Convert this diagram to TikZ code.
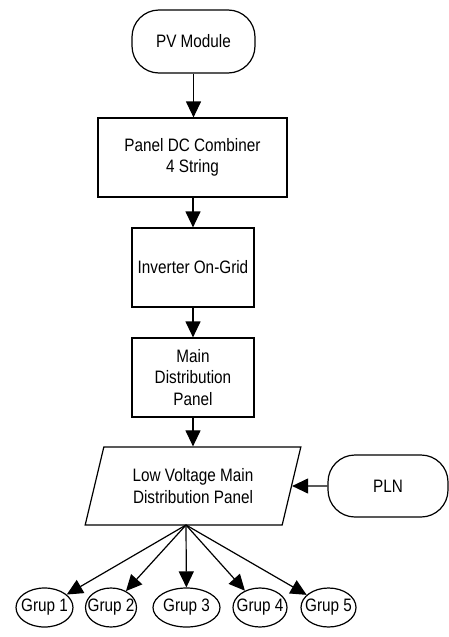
\documentclass[tikz,border=0pt]{standalone}
\usepackage{fontspec}
\setmainfont{Liberation Sans}[FakeStretch=0.85]
\usetikzlibrary{shapes.geometric,arrows.meta}
\begin{document}
\begin{tikzpicture}[x=1pt,y=1pt,
  every node/.style={font=\fontsize{18}{21.5}\selectfont, align=center, line width=1.2pt, inner sep=0pt},
  boxnode/.style={draw, rectangle, minimum height=79pt},
  termnode/.style={draw, rectangle, rounded corners=27pt},
  grupnode/.style={draw, ellipse, inner sep=-12pt, minimum height=39pt, minimum width=#1},
  conn/.style={line width=1.2pt, -{Triangle[length=16pt,width=15pt]}}]
\useasboundingbox (0,0) rectangle (449,-637);
\node[termnode, minimum width=123pt, minimum height=63pt] (pv) at (193.5,-41.5) {PV Module};
\node[boxnode, minimum width=189pt] (dc) at (192.5,-157.5) {Panel DC Combiner\\4 String};
\node[boxnode, minimum width=122pt] (inv) at (193,-267.5) {Inverter On-Grid};
\node[boxnode, minimum width=122pt] (mdp) at (193,-377.5) {Main\\Distribution\\Panel};
\node[draw, trapezium, trapezium left angle=70, trapezium right angle=110, trapezium stretches=true,
      minimum width=216pt, minimum height=78pt] (lv) at (193,-486) {Low Voltage Main\\Distribution Panel};
\node[termnode, minimum width=120pt, minimum height=62pt] (pln) at (388,-486) {PLN};
\node[grupnode=57pt] (g1) at (44.5,-607.5) {Grup 1};
\node[grupnode=51pt] (g2) at (111,-607.5) {Grup 2};
\node[grupnode=67pt] (g3) at (186.5,-607.5) {Grup 3};
\node[grupnode=54pt] (g4) at (260,-607.5) {Grup 4};
\node[grupnode=55pt] (g5) at (328.5,-607.5) {Grup 5};
\coordinate (hub) at (186,-525);
\draw[conn] (pv.south) -- (pv.south |- dc.north);
\draw[conn] (inv.north |- dc.south) -- (inv.north);
\draw[conn] (inv.south) -- (mdp.north);
\draw[conn] (mdp.south) -- (mdp.south |- lv.north);
\draw[conn] (pln.west) -- (lv.east);
\foreach \g in {g1,g2,g3,g4,g5} \draw[conn] (hub) -- (\g);
\end{tikzpicture}
\end{document}
